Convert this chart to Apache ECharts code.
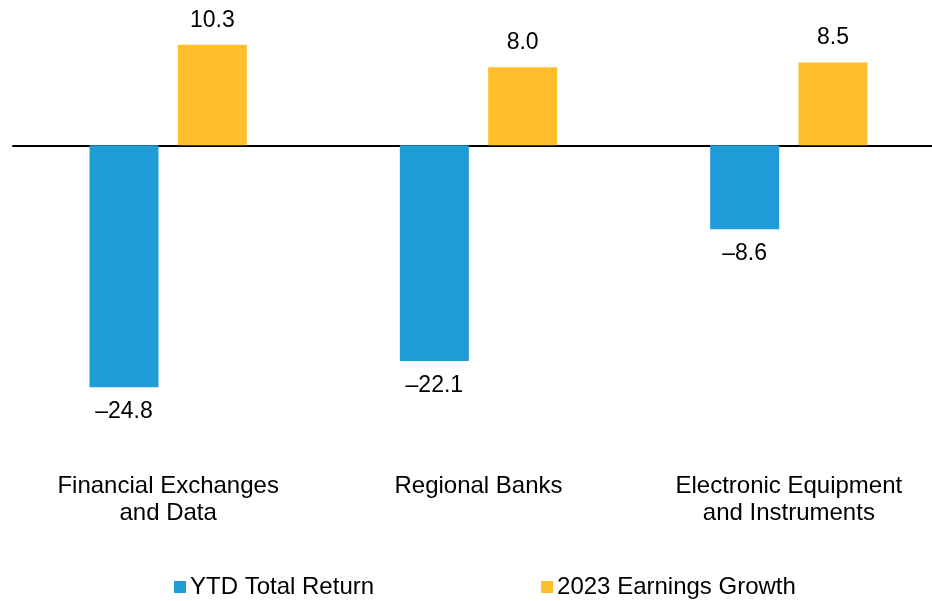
<!DOCTYPE html>
<html>
<head>
<meta charset="utf-8">
<script src="https://cdn.jsdelivr.net/npm/echarts@6/dist/echarts.min.js"></script>
<style>
  html, body { margin: 0; padding: 0; background: #fff; }
  #chart { width: 932px; height: 601px; }
</style>
</head>
<body>
<div id="chart"></div>
<script>
// categories and values
const categories = ['Financial Exchanges\nand Data', 'Regional Banks', 'Electronic Equipment\nand Instruments']
const ytdReturn = [-24.8, -22.1, -8.6]
const earningsGrowth = [10.3, 8.0, 8.5]
const seriesNames = ['YTD Total Return', '2023 Earnings Growth']

const fmt = p => (p.value < 0 ? '\u2013' + Math.abs(p.value).toFixed(1) : p.value.toFixed(1))

const chart = echarts.init(document.getElementById('chart'))

const option = {
  animation: false,
  textStyle: { fontFamily: 'Liberation Sans, Arial, sans-serif' },
  grid: { left: 13, width: 931, top: -1, height: 439, outerBoundsMode: 'none', containLabel: false },
  legend: {
    left: 169,
    top: 570,
    itemGap: 167,
    itemWidth: 12,
    itemHeight: 12,
    icon: 'rect',
    textStyle: { fontSize: 24, color: '#000', padding: [0, 0, 0, -1] },
    data: seriesNames
  },
  xAxis: [
    {
      type: 'category',
      data: categories,
      axisLine: { onZero: true, lineStyle: { color: '#000', width: 2 } },
      axisTick: { show: false },
      axisLabel: { show: false }
    },
    {
      type: 'category',
      data: categories,
      position: 'bottom',
      axisLine: { show: false },
      axisTick: { show: false },
      axisLabel: { fontSize: 24, color: '#000', lineHeight: 27, margin: 35 }
    }
  ],
  yAxis: {
    type: 'value',
    min: -30,
    max: 15,
    show: false
  },
  series: [
    {
      name: seriesNames[0],
      type: 'bar',
      data: ytdReturn,
      barWidth: 69,
      barGap: '28%',
      itemStyle: { color: '#1F9BD7' },
      label: { show: true, position: 'bottom', distance: 13, fontSize: 23, color: '#000', formatter: fmt }
    },
    {
      name: seriesNames[1],
      type: 'bar',
      data: earningsGrowth,
      barWidth: 69,
      barGap: '28%',
      itemStyle: { color: '#FEBF2B' },
      label: { show: true, position: 'top', distance: 13, fontSize: 23, color: '#000', formatter: fmt }
    }
  ]
}
chart.setOption(option)
</script>
</body>
</html>
